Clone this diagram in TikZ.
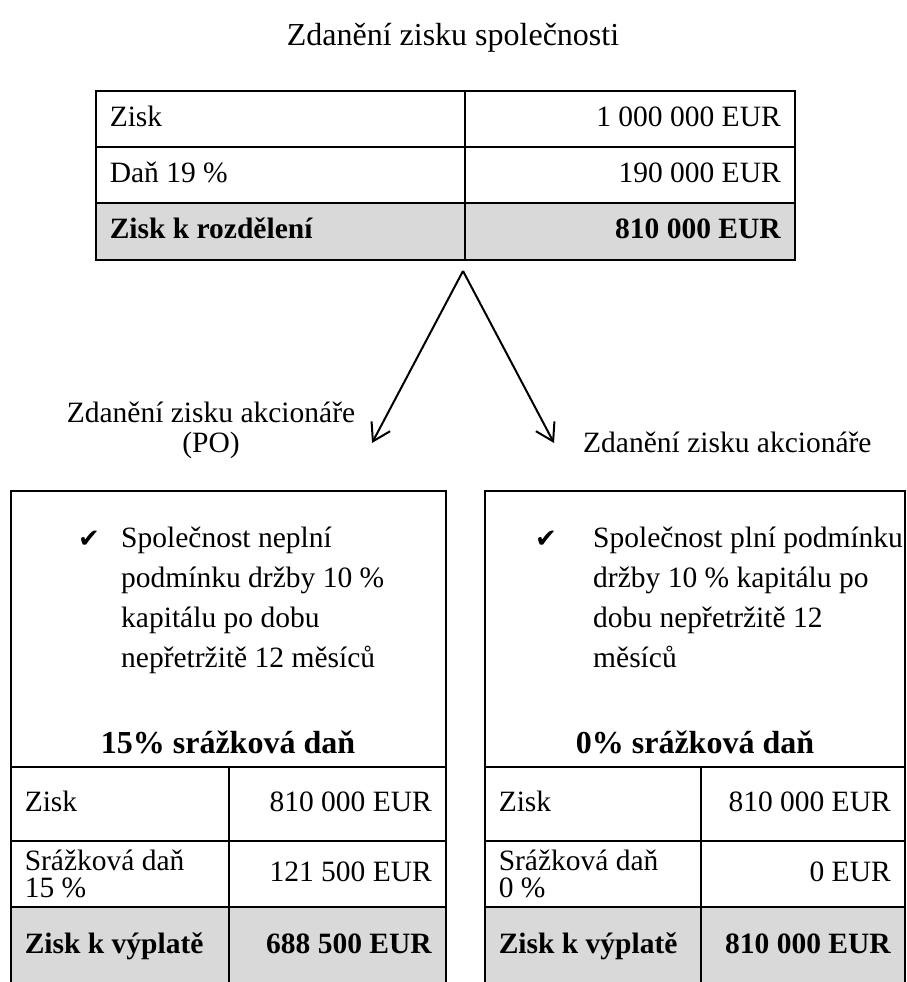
\documentclass[tikz,border=0pt]{standalone}
\usepackage{fontspec}
\setmainfont{Liberation Serif}
\newfontfamily\checkfont{DejaVu Sans}
\usetikzlibrary{arrows.meta,positioning}

\begin{document}
\begin{tikzpicture}[x=1pt, y=-1pt,
   font=\fontsize{29.5}{40}\selectfont,
   cell/.style={draw, line width=1.5pt, anchor=north west, inner ysep=0pt, inner xsep=14pt},
   row/.style={cell, text height=22pt, text depth=7pt},
   total/.style={row, fill=black!15, font=\fontsize{29.5}{40}\selectfont\bfseries},
   frame/.style={draw, line width=1.5pt, anchor=north west, inner sep=0pt},
   rate/.style={anchor=base, font=\fontsize{32}{40}\selectfont\bfseries},
   tick/.style={anchor=base west, inner sep=0pt, font=\checkfont\fontsize{26}{30}\selectfont},
   bullet/.style={anchor=base west, align=left, inner sep=0pt},
   link/.style={->, line width=2pt, >={Straight Barb[length=17pt,width=21pt]}}]
  \useasboundingbox (0,0) rectangle (906,982);

  % title and company table
  \node[anchor=base, font=\fontsize{32}{40}\selectfont] (title) at (453,46) {Zdanění zisku společnosti};
  \node[row, text width=341pt, minimum height=56pt, align=flush left]  (zisk)   at (95,90)   {Zisk};
  \node[row, text width=302pt, minimum height=56pt, align=flush right] (ziskV)  at (464,90)  {1~000~000~EUR};
  \node[row, text width=341pt, minimum height=56pt, align=flush left]  (dan)    at (95,146)  {Daň 19~\%};
  \node[row, text width=302pt, minimum height=56pt, align=flush right] (danV)   at (464,146) {190~000~EUR};
  \node[total, text width=341pt, minimum height=57pt, align=flush left]  (rozd)  at (95,202)  {Zisk k rozdělení};
  \node[total, text width=302pt, minimum height=57pt, align=flush right] (rozdV) at (464,202) {810~000~EUR};

  % split
  \coordinate (split) at (463,271);
  \coordinate (tipL) at (372,443);
  \coordinate (tipR) at (554,443);
  \draw[link] (split) -- (tipL);
  \draw[link] (split) -- (tipR);
  \node[anchor=base, align=center, font=\fontsize{29.5}{30}\selectfont] (labL) at (211,452)
       {Zdanění zisku akcionáře\\(PO)};
  \node[anchor=base west, inner sep=0pt] (labR) at (583,452) {Zdanění zisku akcionáře};

  % left branch
  \node[frame, minimum width=435pt, minimum height=276pt] (boxL) at (10,490) {};
  \node[tick] (tickL) at (78,547) {✔};
  \node[bullet] (textL) at (121,667)
       {Společnost neplní\\podmínku držby 10~\%\\kapitálu po dobu\\nepřetržitě 12 měsíců};
  \node[rate] (rateL) at (228,753) {15\% srážková daň};
  \node[row, text width=190pt, minimum height=74pt, align=flush left]  (ziskL)  at (10,766)  {Zisk};
  \node[row, text width=189pt, minimum height=74pt, align=flush right] (ziskLV) at (228,766) {810~000~EUR};
  \node[cell, text width=190pt, minimum height=66pt, align=flush left, font=\fontsize{29.5}{27}\selectfont]
       (srazL) at (10,840) {Srážková daň\\15~\%};
  \node[row, text width=189pt, minimum height=66pt, align=flush right] (srazLV) at (228,840) {121~500~EUR};
  \node[total, text width=190pt, minimum height=79pt, align=flush left]  (vypL)  at (10,906)  {Zisk k výplatě};
  \node[total, text width=189pt, minimum height=79pt, align=flush right] (vypLV) at (228,906) {688~500~EUR};

  % right branch
  \node[frame, minimum width=420pt, minimum height=276pt] (boxR) at (484,490) {};
  \node[tick] (tickR) at (535,547) {✔};
  \node[bullet] (textR) at (593,667)
       {Společnost plní podmínku\\držby 10~\% kapitálu po\\dobu nepřetržitě 12\\měsíců};
  \node[rate] (rateR) at (695,753) {0\% srážková daň};
  \node[row, text width=188pt, minimum height=74pt, align=flush left]  (ziskR)  at (484,766) {Zisk};
  \node[row, text width=176pt, minimum height=74pt, align=flush right] (ziskRV) at (700,766) {810~000~EUR};
  \node[cell, text width=188pt, minimum height=66pt, align=flush left, font=\fontsize{29.5}{27}\selectfont]
       (srazR) at (484,840) {Srážková daň\\0~\%};
  \node[row, text width=176pt, minimum height=66pt, align=flush right] (srazRV) at (700,840) {0~EUR};
  \node[total, text width=188pt, minimum height=79pt, align=flush left]  (vypR)  at (484,906) {Zisk k výplatě};
  \node[total, text width=176pt, minimum height=79pt, align=flush right] (vypRV) at (700,906) {810~000~EUR};
\end{tikzpicture}
\end{document}
